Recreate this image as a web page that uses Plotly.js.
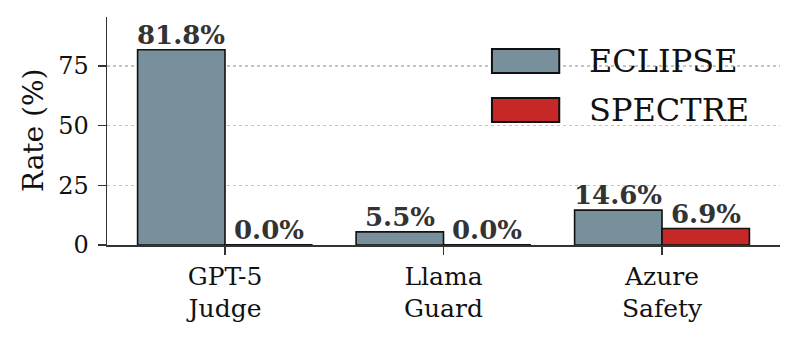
<!DOCTYPE html>
<html>
<head>
<meta charset="utf-8">
<script src="https://cdn.plot.ly/plotly-3.0.1.min.js"></script>
<style>
  body { margin: 0; background: #fff; }
  #chart { width: 798px; height: 340px; }
</style>
</head>
<body>
<div id="chart"></div>
<script>
// values
const categories = ['GPT-5<br>Judge', 'Llama<br>Guard', 'Azure<br>Safety'];
const seriesNames = ['ECLIPSE', 'SPECTRE'];
const eclipseRates = [81.8, 5.5, 14.6];
const spectreRates = [0.0, 0.0, 6.9];
const yTicks = [0, 25, 50, 75];

const colors = ['#78909c', '#c62828'];
const allSeries = [eclipseRates, spectreRates];
const serif = 'DejaVu Serif, serif';

const traces = allSeries.map((vals, k) => ({
  type: 'bar',
  name: seriesNames[k],
  x: categories,
  y: vals,
  marker: { color: colors[k], line: { color: '#111', width: 1.6 } },
  showlegend: false,
  hoverinfo: 'skip'
}));

// value labels + flat outline for zero bars
const annotations = [];
const shapes = [];
allSeries.forEach((vals, k) => {
  const off = k === 0 ? -0.2 : 0.2;
  vals.forEach((v, i) => {
    annotations.push({
      x: i + off, y: v, xref: 'x', yref: 'y',
      text: '<b>' + v.toFixed(1) + '%</b>',
      showarrow: false, yanchor: 'bottom', yshift: -2,
      font: { family: serif, size: 26, color: '#333' }
    });
    if (v === 0) {
      shapes.push({
        type: 'line', xref: 'x', yref: 'y',
        x0: i + off - 0.2, x1: i + off + 0.2, y0: 0, y1: 0,
        line: { color: '#111', width: 2 }
      });
    }
  });
});

// legend drawn by hand so the swatches can be large
const legendRows = [0.807, 0.592];
seriesNames.forEach((name, k) => {
  const yc = legendRows[k];
  shapes.push({
    type: 'rect', xref: 'paper', yref: 'paper',
    x0: 0.572, x1: 0.672, y0: yc - 0.053, y1: yc + 0.053,
    fillcolor: colors[k], line: { color: '#111', width: 2 }
  });
  annotations.push({
    x: 0.713, y: yc, xref: 'paper', yref: 'paper',
    text: name, showarrow: false, xanchor: 'left', yanchor: 'middle',
    font: { family: serif, size: 32, color: '#111' }
  });
});

// y title as annotation so it can sit close to the tick labels
annotations.push({
  x: -0.11, y: 0.504, xref: 'paper', yref: 'paper',
  text: 'Rate (%)', textangle: -90, showarrow: false,
  xanchor: 'center', yanchor: 'middle',
  font: { family: serif, size: 28, color: '#111' }
});

const layout = {
  width: 798,
  height: 340,
  margin: { l: 107, r: 18, t: 17, b: 95 },
  paper_bgcolor: '#fff',
  plot_bgcolor: '#fff',
  barmode: 'group',
  bargap: 0.2,
  bargroupgap: 0,
  xaxis: {
    type: 'category',
    range: [-0.54, 2.54],
    showline: true, linecolor: '#333', linewidth: 1.5,
    ticks: 'outside', ticklen: 8, tickwidth: 1.5, tickcolor: '#333',
    ticklabelstandoff: 0,
    showgrid: false, zeroline: false,
    tickfont: { family: serif, size: 25, color: '#111' }
  },
  yaxis: {
    range: [0, 95.5],
    tickvals: yTicks,
    showline: true, linecolor: '#333', linewidth: 1.5,
    ticks: 'outside', ticklen: 8, tickwidth: 1.5, tickcolor: '#333',
    ticklabelstandoff: 4,
    showgrid: true, gridcolor: '#c4c4c4', griddash: 'dot', gridwidth: 1.2,
    zeroline: false,
    tickfont: { family: serif, size: 24, color: '#111' }
  },
  annotations: annotations,
  shapes: shapes,
  showlegend: false
};

Plotly.newPlot('chart', traces, layout, { staticPlot: true });
</script>
</body>
</html>
